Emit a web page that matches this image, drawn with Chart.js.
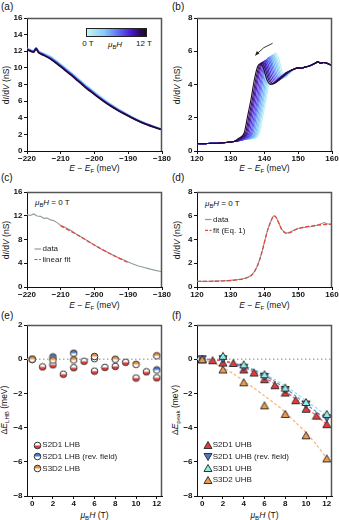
<!DOCTYPE html>
<html>
<head>
<meta charset="utf-8">
<script src="https://cdn.jsdelivr.net/npm/chart.js@4.4.1/dist/chart.umd.min.js"></script>
<style>
body { margin: 0; background: #fff; width: 339px; height: 520px; overflow: hidden; position: relative; font-family: "Liberation Sans", Arial, sans-serif; color: #111 }
canvas { position: absolute }
.t { position: absolute; white-space: nowrap; font-size: 8.5px; line-height: 1; transform: translate(-50%, -50%) }
.yt { transform: translate(-50%, -50%) rotate(-90deg) }
.l { position: absolute; white-space: nowrap; font-size: 8px; line-height: 1; transform: translate(0, -50%) }
.pl { position: absolute; font-size: 10px; line-height: 1 }
sub { font-size: 0.72em; vertical-align: -0.3em; line-height: 0 }
#cbar { position: absolute; left: 86px; top: 28px; width: 59px; height: 7px; border: 1px solid #222;
   background: linear-gradient(to right, #c2f7f1 0%, #88c8f6 30%, #5b66f0 55%, #4a16d6 75%, #2c0a5e 90%, #200a22 100%) }
</style>
</head>
<body>
<div class="pl" style="left:1px;top:2px">(a)</div>
<div class="pl" style="left:172px;top:2px">(b)</div>
<div class="pl" style="left:1px;top:173px">(c)</div>
<div class="pl" style="left:172px;top:173px">(d)</div>
<div class="pl" style="left:1px;top:311px">(e)</div>
<div class="pl" style="left:172px;top:311px">(f)</div>

<div class="t" style="left:94.5px;top:168px"><i>E</i> − <i>E</i><sub>F</sub> (meV)</div>
<div class="t" style="left:264.5px;top:168px"><i>E</i> − <i>E</i><sub>F</sub> (meV)</div>
<div class="t" style="left:94.5px;top:305px"><i>E</i> − <i>E</i><sub>F</sub> (meV)</div>
<div class="t" style="left:264.5px;top:305px"><i>E</i> − <i>E</i><sub>F</sub> (meV)</div>
<div class="t" style="left:94.5px;top:515px"><i>μ</i><sub>B</sub><i>H</i> (T)</div>
<div class="t" style="left:264.5px;top:515px"><i>μ</i><sub>B</sub><i>H</i> (T)</div>

<div class="t yt" style="left:5.5px;top:85px">d<i>I</i>/d<i>V</i> (nS)</div>
<div class="t yt" style="left:176.5px;top:85px">d<i>I</i>/d<i>V</i> (nS)</div>
<div class="t yt" style="left:5.5px;top:240px">d<i>I</i>/d<i>V</i> (nS)</div>
<div class="t yt" style="left:176.5px;top:240px">d<i>I</i>/d<i>V</i> (nS)</div>
<div class="t yt" style="left:4px;top:410px">Δ<i>E</i><sub>LHB</sub> (meV)</div>
<div class="t yt" style="left:174.5px;top:410px">Δ<i>E</i><sub>peak</sub> (meV)</div>

<div id="cbar"></div>
<div class="t" style="left:88px;top:44px;font-size:8px">0 T</div>
<div class="t" style="left:115px;top:44.5px;font-size:8px"><i>μ</i><sub>B</sub><i>H</i></div>
<div class="t" style="left:144px;top:44px;font-size:8px">12 T</div>

<div class="l" style="left:35px;top:203px"><i>μ</i><sub>B</sub><i>H</i> = 0 T</div>
<div class="l" style="left:205px;top:203.5px"><i>μ</i><sub>B</sub><i>H</i> = 0 T</div>

<script>
// ---------- data ----------
const fieldColors = ['#b8f2ee', '#a3e3f3', '#8fd2f6', '#7cbcf7', '#6ea3f6', '#6388f3', '#5a6cf0',
   '#5550ea', '#5233de', '#4a1cc8', '#3e129a', '#300d62', '#220a2c']

// (a) dI/dV near the LHB, a few of the field curves
const fieldsA = [0, 3, 6, 9, 12]
const energyA = [-220, -219, -218, -217.3, -216.5, -215, -213, -211, -209, -207, -205, -203, -201, -199, -197, -195, -193, -191, -189, -187, -185, -183, -181, -180]
const didvA0 = [12.35, 12.2, 12.1, 12.45, 12.0, 11.75, 11.4, 10.8, 10.15, 9.5, 8.8, 8.1, 7.45, 6.8, 6.2, 5.62, 5.1, 4.62, 4.15, 3.75, 3.38, 3.06, 2.77, 2.64]
const didvA3 = [12.3, 12.15, 12.05, 12.4, 11.95, 11.68, 11.3, 10.7, 10.05, 9.4, 8.7, 8.0, 7.35, 6.7, 6.1, 5.53, 5.02, 4.56, 4.1, 3.7, 3.34, 3.03, 2.75, 2.62]
const didvA6 = [12.3, 12.1, 12.0, 12.4, 11.9, 11.6, 11.2, 10.6, 9.95, 9.3, 8.6, 7.9, 7.25, 6.6, 6.0, 5.45, 4.95, 4.5, 4.05, 3.65, 3.3, 3.0, 2.72, 2.6]
const didvA9 = [12.25, 12.05, 11.95, 12.35, 11.85, 11.55, 11.12, 10.52, 9.87, 9.22, 8.52, 7.82, 7.18, 6.53, 5.94, 5.4, 4.9, 4.46, 4.02, 3.62, 3.27, 2.98, 2.7, 2.58]
const didvA12 = [12.2, 12.0, 11.9, 12.3, 11.8, 11.5, 11.05, 10.45, 9.8, 9.15, 8.45, 7.75, 7.1, 6.47, 5.88, 5.35, 4.86, 4.42, 3.99, 3.6, 3.25, 2.96, 2.68, 2.56]
const curvesA = [didvA0, didvA3, didvA6, didvA9, didvA12]

// (b) UHB edge, 0 T ... 12 T: shared foot, per-field rise/peak, shared tail
const baseB = [[120, 0.45], [122, 0.44], [124, 0.46], [126, 0.47], [128, 0.5], [130, 0.54], [131, 0.57], [132, 0.61], [133, 0.65], [134, 0.69], [135, 0.72], [136, 0.74]]
const riseB = [
   [[136.8, 0.75], [138.5, 1.1], [139.5, 2.1], [140.5, 3.1], [141.5, 4.3], [142.5, 5.3], [143.3, 5.9], [144.3, 5.5], [145.2, 4.8], [146.3, 4.5], [147.6, 4.7]],
   [[136.4, 0.75], [138.1, 1.1], [139.1, 2.1], [140.1, 3.1], [141.1, 4.3], [142.1, 5.28], [142.9, 5.85], [143.9, 5.45], [144.8, 4.76], [145.9, 4.46], [147.3, 4.66]],
   [[136.05, 0.75], [137.75, 1.1], [138.75, 2.1], [139.75, 3.1], [140.75, 4.3], [141.75, 5.27], [142.55, 5.8], [143.55, 5.4], [144.45, 4.72], [145.55, 4.42], [147.0, 4.62], [148.2, 4.85]],
   [[135.7, 0.75], [137.4, 1.1], [138.4, 2.1], [139.4, 3.1], [140.4, 4.3], [141.4, 5.25], [142.2, 5.75], [143.2, 5.35], [144.1, 4.68], [145.2, 4.38], [146.7, 4.6], [148.0, 4.84]],
   [[135.3, 0.75], [137.0, 1.1], [138.0, 2.1], [139.0, 3.1], [140.0, 4.3], [141.0, 5.23], [141.8, 5.7], [142.8, 5.3], [143.7, 4.63], [144.8, 4.33], [146.3, 4.55], [147.8, 4.82]],
   [[134.9, 0.75], [136.6, 1.1], [137.6, 2.1], [138.6, 3.1], [139.6, 4.3], [140.6, 5.22], [141.4, 5.65], [142.4, 5.25], [143.3, 4.6], [144.4, 4.29], [145.9, 4.5], [147.5, 4.78]],
   [[134.55, 0.75], [136.25, 1.1], [137.25, 2.1], [138.25, 3.1], [139.25, 4.3], [140.25, 5.2], [141.05, 5.6], [142.05, 5.2], [142.95, 4.55], [144.05, 4.25], [145.5, 4.45], [147.2, 4.75]],
   [[134.2, 0.75], [135.9, 1.1], [136.9, 2.1], [137.9, 3.1], [138.9, 4.3], [139.9, 5.18], [140.7, 5.5], [141.7, 5.15], [142.6, 4.5], [143.7, 4.2], [145.2, 4.42], [147.0, 4.73]],
   [[133.8, 0.75], [135.5, 1.1], [136.5, 2.1], [137.5, 3.1], [138.5, 4.3], [139.5, 5.17], [140.3, 5.45], [141.3, 5.1], [142.2, 4.47], [143.3, 4.15], [144.8, 4.4], [146.8, 4.72]],
   [[133.4, 0.75], [135.1, 1.1], [136.1, 2.1], [137.1, 3.1], [138.1, 4.3], [139.1, 5.15], [139.9, 5.4], [140.9, 5.05], [141.8, 4.43], [142.9, 4.1], [144.4, 4.37], [146.5, 4.7]],
   [[133.05, 0.75], [134.75, 1.1], [135.75, 2.1], [136.75, 3.1], [137.75, 4.3], [138.75, 5.13], [139.55, 5.35], [140.55, 5.0], [141.45, 4.38], [142.55, 4.05], [144.0, 4.33], [146.2, 4.7]],
   [[132.7, 0.75], [134.4, 1.1], [135.4, 2.1], [136.4, 3.1], [137.4, 4.3], [138.4, 5.12], [139.2, 5.3], [140.2, 4.95], [141.1, 4.34], [142.2, 4.03], [143.7, 4.2], [145.5, 4.5], [147.5, 4.8]],
   [[132.3, 0.75], [134.0, 1.1], [135.0, 2.1], [136.0, 3.1], [137.0, 4.3], [138.0, 5.1], [138.8, 5.25], [139.8, 4.9], [140.7, 4.3], [141.8, 4.0], [143.3, 4.1], [145.0, 4.4], [147.0, 4.75]]
]
const tailB = [[149, 4.95], [150, 5.0], [151, 4.98], [152, 5.05], [153, 5.1], [154, 5.18], [155, 5.28], [155.8, 5.36], [156.6, 5.28], [157.5, 5.32], [158.5, 5.28], [159.3, 5.2], [160, 5.15]]
const arrowB = [[142.4, 6.48], [139.7, 6.3], [137.4, 5.78]]

// (c) 0 T data and linear fit
const energyC = [-220, -219, -218, -217, -216, -215, -214, -213, -212, -211, -210, -209, -208, -207, -206, -205, -204, -203, -202, -201, -200, -199, -198, -197, -196, -195, -194, -193, -192, -191, -190, -189, -188, -187, -186, -185, -184, -183, -182, -181, -180]
const didvC = [12.2, 12.05, 12.3, 11.95, 11.9, 11.55, 11.6, 11.3, 11.15, 10.8, 10.35, 10.15, 9.8, 9.5, 9.15, 8.75, 8.45, 8.1, 7.75, 7.4, 7.05, 6.75, 6.4, 6.1, 5.8, 5.5, 5.2, 4.95, 4.7, 4.45, 4.2, 3.95, 3.75, 3.55, 3.4, 3.25, 3.1, 2.95, 2.8, 2.7, 2.55]
const energyFitC = [-210, -205, -200, -195, -190]
const fitC = [10.3, 8.75, 7.05, 5.5, 4.1]

// (d) 0 T data and fit (Eq. 1)
const energyD = [120, 122, 124, 126, 128, 130, 132, 134, 135, 136, 137, 138, 139, 140, 141, 142, 142.8, 143.5, 144.3, 145, 145.8, 146.5, 147.3, 148.5, 150, 151, 152.5, 154, 155.5, 157, 157.6, 158.5, 160]
const didvD = [0.48, 0.47, 0.49, 0.5, 0.52, 0.56, 0.62, 0.72, 0.82, 0.98, 1.3, 1.85, 2.7, 3.8, 4.85, 5.6, 6.0, 5.85, 5.35, 4.9, 4.65, 4.55, 4.6, 4.75, 4.95, 4.98, 5.05, 5.1, 5.2, 5.35, 5.42, 5.32, 5.25]
const energyFitD = [120, 124, 128, 132, 134, 136, 137, 138, 139, 140, 141, 142, 142.8, 143.5, 144.3, 145, 145.8, 146.6, 147.5, 149, 151, 153, 155, 157, 160]
const fitD = [0.47, 0.48, 0.51, 0.6, 0.7, 0.95, 1.28, 1.85, 2.7, 3.8, 4.85, 5.6, 6.0, 5.85, 5.35, 4.9, 4.62, 4.52, 4.57, 4.8, 5.0, 5.1, 5.18, 5.25, 5.3]

// (e) LHB shift
const fieldAll = [0, 1, 2, 3, 4, 5, 6, 7, 8, 9, 10, 11, 12]
const fieldEven = [0, 2, 4, 6, 8, 10, 12]
const fieldRevE = [2, 4, 6, 12]
const lhbS2D1 = [0, -0.45, -0.33, -0.88, -0.5, -0.12, -0.7, -0.48, -0.42, -0.18, -1.1, -0.74, -1.09]
const lhbS2D1Rev = [0.13, 0.35, 0.03, -0.63]
const lhbS3D2 = [0, -0.05, -0.04, 0.16, 0, -0.3, 0.2]

// (f) UHB peak shift and fits
const uhbS2D1 = [0, -0.06, -0.2, -0.22, -0.6, -0.78, -1.17, -1.52, -1.95, -2.4, -2.9, -3.3, -3.8]
const uhbS2D1Rev = [0, 0, -0.5, -1.03, -1.8, -2.65, -3.45]
const uhbS3D1 = [0, 0.2, -0.3, -0.88, -1.66, -2.5, -3.2]
const uhbS3D2 = [0, -0.6, -1.35, -2.7, -3.2, -4.45, -5.8]
const fitS2D1 = [0, -0.03, -0.12, -0.27, -0.49, -0.75, -1.07, -1.45, -1.87, -2.33, -2.83, -3.3, -3.82]
const fitS2D1Rev = [0, -0.03, -0.1, -0.23, -0.42, -0.66, -0.95, -1.3, -1.7, -2.15, -2.62, -3.08, -3.5]
const fitS3D1 = [0, -0.02, -0.09, -0.21, -0.38, -0.6, -0.87, -1.19, -1.56, -1.98, -2.43, -2.86, -3.28]
const fitS3D2 = [0, -0.2, -0.5, -0.85, -1.27, -1.7, -2.15, -2.6, -3.1, -3.7, -4.3, -5.0, -5.8]
const zeroX = [-0.5, 12.5]

// axis ranges and ticks
const ticksA = [0, 2, 4, 6, 8, 10, 12, 14, 16]
const ticksEA = [-220, -210, -200, -190, -180]
const ticksB = [0, 2, 4, 6, 8]
const ticksEB = [120, 130, 140, 150, 160]
const ticksC = [0, 4, 8, 12, 16]
const ticksEF = [-8, -6, -4, -2, 0, 2]
const ticksH = [0, 2, 4, 6, 8, 10, 12]

// ---------- helpers ----------
const W = 27, PT = 6, PR = 14, XH = 14
const tickFont = { family: 'Liberation Sans', size: 8, weight: 'bold' }
const pts = (xs, ys) => xs.map((x, i) => ({ x, y: ys[i] }))

const axis = (dir, min, max, ticks) => ({
   type: 'linear', min, max,
   afterBuildTicks: s => { s.ticks = ticks.map(v => ({ value: v })) },
   afterFit: s => {
      if (dir === 'x') s.height = XH
      else s.width = W
      s.paddingLeft = s.paddingRight = s.paddingTop = s.paddingBottom = 0
   },
   ticks: {
      font: tickFont, color: '#111', padding: dir === 'x' ? 0 : 1.5, autoSkip: false, maxRotation: 0,
      callback: v => v < 0 ? '\u2212' + Math.abs(v) : String(v)
   },
   grid: { drawOnChartArea: false, tickLength: 3, color: '#111', lineWidth: 1 },
   border: { color: '#111', width: 1 }
})

const frame = {
   id: 'frame',
   afterDatasetsDraw(c) {
      const a = c.chartArea, g = c.ctx
      g.save()
      g.strokeStyle = '#555'
      g.lineWidth = 1.5
      g.beginPath()
      g.moveTo(a.left, a.top + 0.5)
      g.lineTo(a.right - 0.5, a.top + 0.5)
      g.lineTo(a.right - 0.5, a.bottom)
      g.stroke()
      g.restore()
   }
}

// legend drawn inside the plot area (offsets from chartArea top-left)
const legendIn = (x, y, dy, items) => ({
   id: 'legendIn',
   afterDraw(c) {
      const g = c.ctx, a = c.chartArea
      g.save()
      g.font = '8px "Liberation Sans"'
      g.textBaseline = 'middle'
      g.fillStyle = '#222'
      items.forEach((it, i) => {
         const cx = a.left + x, cy = a.top + y + i * dy
         if (it.img) {
            g.drawImage(it.img, Math.round(cx - it.img.width / 2), Math.round(cy - it.img.height / 2))
            g.fillText(it.text, cx + 5, cy)
         } else {
            g.strokeStyle = it.color
            g.lineWidth = 1.2
            g.setLineDash(it.dash || [])
            g.beginPath()
            g.moveTo(cx - 3, cy)
            g.lineTo(cx + 3.5, cy)
            g.stroke()
            g.setLineDash([])
            g.fillText(it.text, cx + 5, cy)
         }
      })
      g.restore()
   }
})

const arrowPlugin = {
   id: 'arrow',
   afterDatasetsDraw(c) {
      const { x, y } = c.scales, g = c.ctx
      const p = arrowB.map(q => [x.getPixelForValue(q[0]), y.getPixelForValue(q[1])])
      g.save()
      g.strokeStyle = '#222'
      g.fillStyle = '#222'
      g.lineWidth = 0.9
      g.beginPath()
      g.moveTo(p[0][0], p[0][1])
      g.quadraticCurveTo(p[1][0], p[1][1], p[2][0], p[2][1])
      g.stroke()
      const ang = Math.atan2(p[2][1] - p[1][1], p[2][0] - p[1][0])
      g.beginPath()
      g.moveTo(p[2][0] + Math.cos(ang), p[2][1] + Math.sin(ang))
      g.lineTo(p[2][0] - 4 * Math.cos(ang - 0.45), p[2][1] - 4 * Math.sin(ang - 0.45))
      g.lineTo(p[2][0] - 4 * Math.cos(ang + 0.45), p[2][1] - 4 * Math.sin(ang + 0.45))
      g.closePath()
      g.fill()
      g.restore()
   }
}

const halfCircle = (color, half) => {
   const c = document.createElement('canvas')
   c.width = c.height = 9
   const g = c.getContext('2d'), r = 3.3
   g.fillStyle = '#fff'
   g.beginPath(); g.arc(4.5, 4.5, r, 0, 2 * Math.PI); g.fill()
   g.fillStyle = color
   g.beginPath()
   if (half === 'top') g.arc(4.5, 4.5, r, Math.PI, 2 * Math.PI)
   else g.arc(4.5, 4.5, r, 0, Math.PI)
   g.closePath(); g.fill()
   g.strokeStyle = '#333'; g.lineWidth = 1
   g.beginPath(); g.arc(4.5, 4.5, r, 0, 2 * Math.PI); g.stroke()
   return c
}

const triangle = (color, down) => {
   const c = document.createElement('canvas')
   c.width = c.height = 10
   const g = c.getContext('2d')
   g.beginPath()
   if (down) { g.moveTo(1, 1.5); g.lineTo(9, 1.5); g.lineTo(5, 8.5) }
   else { g.moveTo(5, 1.5); g.lineTo(9, 8.5); g.lineTo(1, 8.5) }
   g.closePath()
   g.fillStyle = color; g.fill()
   g.strokeStyle = '#333'; g.lineWidth = 1; g.stroke()
   return c
}

const makeChart = (box, datasets, xAxis, yAxis, extra = []) => {
   const cv = document.createElement('canvas')
   cv.width = box.w + W + PR
   cv.height = box.h + PT + XH
   cv.style.left = (box.l - W) + 'px'
   cv.style.top = (box.t - PT) + 'px'
   document.body.appendChild(cv)
   return new Chart(cv.getContext('2d'), {
      type: 'line',
      data: { datasets },
      options: {
         responsive: false, animation: false, events: [],
         layout: { padding: { top: PT, right: PR, left: 0, bottom: 0 } },
         plugins: { legend: { display: false }, tooltip: { enabled: false } },
         elements: { point: { radius: 0 } },
         scales: { x: xAxis, y: yAxis }
      },
      plugins: [frame, ...extra]
   })
}

const line = (data, color, width, extra = {}) => ({ data, borderColor: color, borderWidth: width, pointRadius: 0, fill: false, ...extra })
const marks = (data, img, order) => ({ data, showLine: false, pointStyle: img, pointRadius: 4, order })

// ---------- (a) ----------
makeChart({ l: 27, t: 18, w: 135, h: 133 },
   curvesA.map((ys, i) => line(pts(energyA, ys), fieldColors[fieldsA[i]], 1.6, { tension: 0.2, order: 12 - fieldsA[i] })),
   axis('x', -220, -180, ticksEA), axis('y', 0, 16, ticksA))

// ---------- (b) ----------
const datasetsB = riseB.map((rise, k) => {
   const first = rise[0][0], last = rise[rise.length - 1][0]
   const all = baseB.filter(p => p[0] < first - 0.4).concat(rise, tailB.filter(p => p[0] > last + 0.5))
   return line(all.map(p => ({ x: p[0], y: p[1] })), fieldColors[k], 1.1, { cubicInterpolationMode: 'monotone', order: 12 - k })
})
makeChart({ l: 197, t: 18, w: 135, h: 133 }, datasetsB,
   axis('x', 120, 160, ticksEB), axis('y', 0, 8, ticksB), [arrowPlugin])

// ---------- (c) ----------
makeChart({ l: 27, t: 192, w: 135, h: 95 }, [
   line(pts(energyFitC, fitC), '#e8463c', 1.3, { borderDash: [4, 2], tension: 0.3 }),
   line(pts(energyC, didvC), '#8e9a9a', 1.1)
], axis('x', -220, -180, ticksEA), axis('y', 0, 16, ticksC), [legendIn(10.5, 57, 10.5, [
   { text: 'data', color: '#8e9a9a' },
   { text: 'linear fit', color: '#e8463c', dash: [3, 1.5] }
])])

// ---------- (d) ----------
makeChart({ l: 197, t: 192, w: 135, h: 95 }, [
   line(pts(energyFitD, fitD), '#e8463c', 1.3, { borderDash: [4, 2], cubicInterpolationMode: 'monotone' }),
   line(pts(energyD, didvD), '#8e9a9a', 1.1, { cubicInterpolationMode: 'monotone' })
], axis('x', 120, 160, ticksEB), axis('y', 0, 8, ticksB), [legendIn(11, 27.5, 10.8, [
   { text: 'data', color: '#8e9a9a' },
   { text: 'fit (Eq. 1)', color: '#e8463c', dash: [3, 1.5] }
])])

// ---------- (e) ----------
const mRedE = halfCircle('#e83a3a', 'bottom')
const mBlueE = halfCircle('#4a78d0', 'top')
const mOrangeE = halfCircle('#e8923a', 'top')
makeChart({ l: 27, t: 325, w: 135, h: 171 }, [
   line(pts(zeroX, [0, 0]), '#b0b0b0', 1.4, { borderDash: [1.5, 2.5], order: 10 }),
   marks(pts(fieldAll, lhbS2D1), mRedE, 3),
   marks(pts(fieldRevE, lhbS2D1Rev), mBlueE, 2),
   marks(pts(fieldEven, lhbS3D2), mOrangeE, 1)
], axis('x', -0.5, 12.5, ticksH), axis('y', -8, 2, ticksEF), [legendIn(10.3, 120, 11.7, [
   { text: 'S2D1 LHB', img: mRedE },
   { text: 'S2D1 LHB (rev. field)', img: mBlueE },
   { text: 'S3D2 LHB', img: mOrangeE }
])])

// ---------- (f) ----------
const mRedF = triangle('#e83a3a', false)
const mBlueF = triangle('#4a78d0', true)
const mCyanF = triangle('#90eee6', false)
const mOrangeF = triangle('#f09a4a', false)
makeChart({ l: 197, t: 325, w: 135, h: 171 }, [
   line(pts(zeroX, [0, 0]), '#b0b0b0', 1.4, { borderDash: [1.5, 2.5], order: 20 }),
   line(pts(fieldAll, fitS3D2), '#f5b57a', 1.2, { borderDash: [3, 2], tension: 0.3, order: 19 }),
   line(pts(fieldAll, fitS3D1), '#8fe0e8', 1.2, { borderDash: [3, 2], tension: 0.3, order: 18 }),
   line(pts(fieldAll, fitS2D1Rev), '#5a8ae0', 1.2, { borderDash: [3, 2], tension: 0.3, order: 17 }),
   line(pts(fieldAll, fitS2D1), '#f05a5a', 1.2, { borderDash: [3, 2], tension: 0.3, order: 16 }),
   marks(pts(fieldAll, uhbS2D1), mRedF, 4),
   marks(pts(fieldEven, uhbS2D1Rev), mBlueF, 3),
   marks(pts(fieldEven, uhbS3D1), mCyanF, 2),
   marks(pts(fieldEven, uhbS3D2), mOrangeF, 1)
], axis('x', -0.5, 12.5, ticksH), axis('y', -8, 2, ticksEF), [legendIn(10.7, 120, 11.7, [
   { text: 'S2D1 UHB', img: mRedF },
   { text: 'S2D1 UHB (rev. field)', img: mBlueF },
   { text: 'S3D1 UHB', img: mCyanF },
   { text: 'S3D2 UHB', img: mOrangeF }
])])
</script>
</body>
</html>
